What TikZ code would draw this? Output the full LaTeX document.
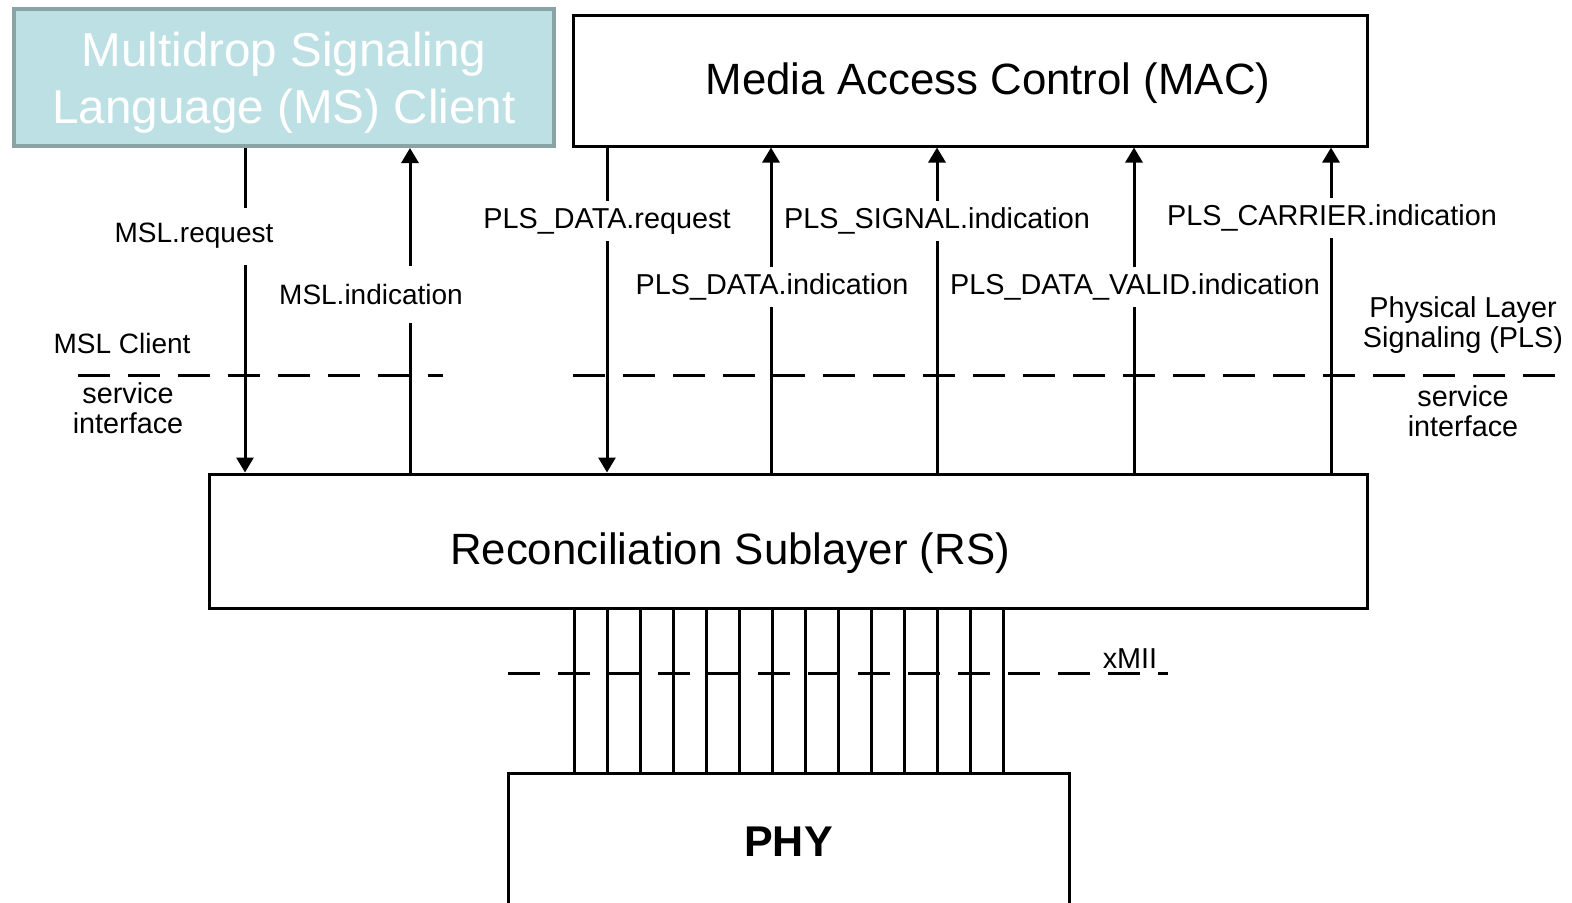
\documentclass[tikz,border=0pt]{standalone}
\usepackage{fontspec}
\setmainfont{Liberation Sans}
\usetikzlibrary{arrows.meta}
\definecolor{mslfill}{RGB}{188,224,227}
\definecolor{mslborder}{RGB}{138,164,166}

\begin{document}
\begin{tikzpicture}[x=0.5pt, y=-0.5pt, line width=1.5pt,
    >={Triangle[length=7.5pt,width=8.5pt]},
    layer/.style={draw, minimum width=#1, inner sep=0pt},
    layertext/.style={font=\fontsize{21.9}{26}\selectfont},
    prim/.style={fill=white, inner xsep=1pt, inner ysep=0pt, minimum height=20pt, font=\fontsize{14.4}{17}\selectfont},
    mslprim/.style={prim, minimum height=28.5pt, font=\fontsize{14}{17}\selectfont},
    note/.style={align=center, inner sep=0pt, font=\fontsize{14.4}{15}\selectfont},
    sap/.style={dash pattern=on 16pt off 9pt}]
    \useasboundingbox (0,0) rectangle (1572,902);
    % layers
    \node[draw=mslborder, line width=2pt, fill=mslfill, minimum width=270pt, minimum height=68.5pt,
          label={[text=white, align=center, yshift=-2.5pt, font=\fontsize{23.8}{28.5}\selectfont]center:
          Multidrop Signaling\\Language (MS) Client}] (ms) at (284,77.5) {};
    \node[layer=397pt, minimum height=65.5pt,
          label={[layertext, xshift=9pt, yshift=-1.5pt]center:Media Access Control (MAC)}] (mac) at (970,80.5) {};
    \node[layer=579pt, minimum height=67pt,
          label={[layertext, xshift=-29pt, yshift=-6pt]center:Reconciliation Sublayer (RS)}] (rs) at (788,541) {};
    \node[layer=280.5pt, minimum height=69pt, font=\bfseries\fontsize{21.5}{26}\selectfont] (phy) at (788.5,842) {PHY};
    % service primitives
    \foreach \n/\x in {mreq/245, mind/410, dreq/607, dind/771, sig/937, valid/1134, car/1331}
        \coordinate (\n) at (\x,0);
    \draw[->] (mreq |- ms.south) -- (mreq |- rs.north);
    \draw[<-] (mind |- ms.south) -- (mind |- rs.north);
    \draw[->] (dreq |- mac.south) -- (dreq |- rs.north);
    \foreach \n in {dind, sig, valid, car}
        \draw[<-] (\n |- mac.south) -- (\n |- rs.north);
    \node[mslprim] (mreqlab) at (194,236) {MSL.request};
    \node[mslprim] (mindlab) at (371,294) {MSL.indication};
    \node[prim] (dreqlab) at (607,221) {PLS\_DATA.request};
    \node[prim] (dindlab) at (772,287) {PLS\_DATA.indication};
    \node[prim] (siglab) at (937,221) {PLS\_SIGNAL.indication};
    \node[prim] (validlab) at (1135,287) {PLS\_DATA\_VALID.indication};
    \node[prim] (carlab) at (1332,218) {PLS\_CARRIER.indication};
    % service interface
    \draw[sap] (78,375) -- (443,375);
    \draw[sap] (573,375) -- (1572,375);
    \node[note, font=\fontsize{14}{15}\selectfont] (mslcl) at (122,343) {MSL Client};
    \node[note] (lsi) at (128,408) {service\\interface};
    \node[note] (pls) at (1463,325) {Physical Layer\\Signaling (PLS)};
    \node[note] (rsi) at (1463,411) {service\\interface};
    % xMII
    \foreach \i in {0,...,13} {
        \coordinate (mii\i) at ({574+33*\i},0);
        \draw (mii\i |- rs.south) -- (mii\i |- phy.north);
    }
    \draw[sap] (508,673) -- (1168,673);
    \node[note] (xmii) at (1130,659) {xMII};
\end{tikzpicture}
\end{document}
